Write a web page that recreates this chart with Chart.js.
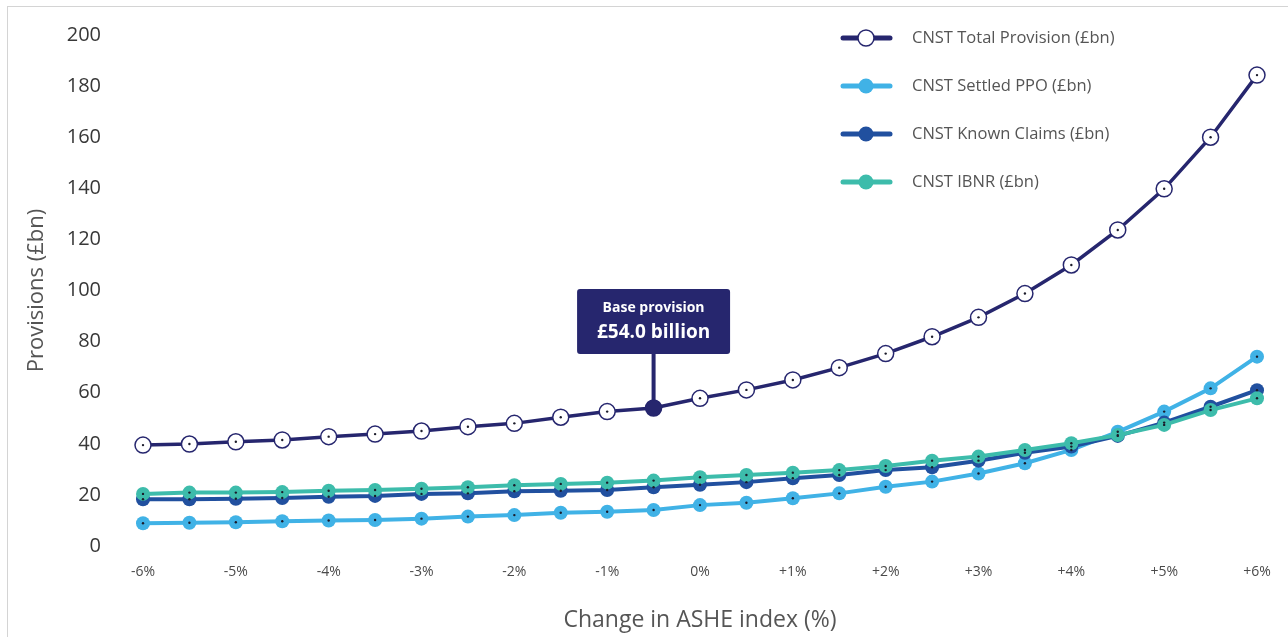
<!DOCTYPE html>
<html>
<head>
<meta charset="utf-8">
<script src="https://cdn.jsdelivr.net/npm/chart.js@4.4.1/dist/chart.umd.min.js"></script>
<style>
    html, body { margin: 0; padding: 0; background: #fff; overflow: hidden; }
    .frame { position: absolute; left: 7px; top: 6px; right: -4px; bottom: -4px; border: 1px solid #d4d4d4; }
    .wrap { position: absolute; left: 0; top: 0; width: 1288px; height: 637px; }
</style>
</head>
<body>
<div class="frame"></div>
<div class="wrap"><canvas id="provisionChart"></canvas></div>
<script>
    const changes = ['-6%', '-5.5%', '-5%', '-4.5%', '-4%', '-3.5%', '-3%', '-2.5%', '-2%', '-1.5%', '-1%', '-0.5%', '0%',
        '+0.5%', '+1%', '+1.5%', '+2%', '+2.5%', '+3%', '+3.5%', '+4%', '+4.5%', '+5%', '+5.5%', '+6%'];

    const totalProvision = [39.5, 39.9, 40.8, 41.5, 42.8, 43.8, 45.0, 46.7, 48.0, 50.4, 52.6, 54.0, 57.8,
        61.1, 65.0, 69.8, 75.3, 81.9, 89.5, 98.8, 110.0, 123.7, 139.8, 160.0, 184.3];
    const settledPPO = [8.9, 9.1, 9.3, 9.7, 10.0, 10.2, 10.7, 11.5, 12.1, 13.0, 13.4, 14.1, 16.0,
        16.9, 18.7, 20.6, 23.2, 25.2, 28.4, 32.4, 37.6, 44.7, 52.6, 61.7, 74.1];
    const knownClaims = [18.3, 18.3, 18.5, 18.8, 19.3, 19.6, 20.4, 20.6, 21.4, 21.6, 21.9, 23.0, 24.0,
        25.0, 26.5, 27.8, 29.7, 30.8, 33.4, 36.5, 38.9, 43.1, 48.3, 54.5, 61.0];
    const ibnr = [20.4, 20.9, 20.9, 21.1, 21.6, 21.9, 22.4, 23.0, 23.8, 24.3, 24.8, 25.6, 26.9,
        27.8, 28.7, 29.7, 31.3, 33.4, 35.0, 37.6, 40.2, 43.4, 47.4, 53.2, 57.8];

    const baseIndex = changes.indexOf('-0.5%');
    const baseLabel = ['Base provision', '£' + totalProvision[baseIndex].toFixed(1) + ' billion'];

    const navy = '#26266e';
    const fontFamily = '"Open Sans", "Noto Sans", sans-serif';

    const series = [
        {label: 'CNST Total Provision (£bn)', data: totalProvision, color: navy, order: 0, width: 3.5},
        {label: 'CNST Settled PPO (£bn)', data: settledPPO, color: '#40b2e6', order: 3, width: 4},
        {label: 'CNST Known Claims (£bn)', data: knownClaims, color: '#21509f', order: 2, width: 4},
        {label: 'CNST IBNR (£bn)', data: ibnr, color: '#3dbcab', order: 1, width: 4}
    ];

    const datasets = series.map((s, i) => ({
        label: s.label,
        data: s.data,
        borderColor: s.color,
        borderWidth: s.width,
        order: s.order,
        clip: false,
        tension: 0,
        pointRadius: i === 0 ? 8 : 7,
        pointBorderWidth: i === 0 ? 1.5 : 0,
        pointBorderColor: s.color,
        pointBackgroundColor: i === 0
            ? ctx => (ctx.dataIndex === baseIndex ? navy : '#fff')
            : s.color
    }));

    // little dark dot in the middle of every marker
    const centreDots = {
        id: 'centreDots',
        afterDatasetsDraw(chart) {
            const {ctx} = chart;
            ctx.save();
            ctx.fillStyle = '#1b1b2a';
            chart.data.datasets.forEach((ds, i) => {
                chart.getDatasetMeta(i).data.forEach(pt => {
                    ctx.beginPath();
                    ctx.arc(pt.x, pt.y, 1.2, 0, Math.PI * 2);
                    ctx.fill();
                });
            });
            ctx.restore();
        }
    };

    const baseCallout = {
        id: 'baseCallout',
        afterDatasetsDraw(chart) {
            const pt = chart.getDatasetMeta(0).data[baseIndex];
            const {ctx} = chart;
            const w = 153, h = 65, gap = 54;
            const left = pt.x - w / 2;
            const top = pt.y - gap - h;
            ctx.save();
            ctx.fillStyle = navy;
            ctx.fillRect(pt.x - 2, top + h - 1, 4, gap);
            ctx.beginPath();
            ctx.roundRect(left, top, w, h, 3);
            ctx.fill();
            ctx.beginPath();
            ctx.arc(pt.x, pt.y, 8, 0, Math.PI * 2);
            ctx.fill();
            ctx.fillStyle = '#fff';
            ctx.textAlign = 'center';
            ctx.textBaseline = 'middle';
            ctx.font = 'bold 14px ' + fontFamily;
            ctx.fillText(baseLabel[0], pt.x, top + 19);
            ctx.font = 'bold 19px ' + fontFamily;
            ctx.fillText(baseLabel[1], pt.x, top + 44);
            ctx.restore();
        }
    };

    // vertical legend sitting inside the plot, top right
    const stackedLegend = {
        id: 'stackedLegend',
        afterDraw(chart) {
            const {ctx} = chart;
            const x0 = 843, x1 = 890, mid = 866, textX = 912;
            ctx.save();
            series.forEach((s, i) => {
                const y = 38 + i * 48;
                ctx.strokeStyle = s.color;
                ctx.lineWidth = 5;
                ctx.lineCap = 'round';
                ctx.beginPath();
                ctx.moveTo(x0, y);
                ctx.lineTo(x1, y);
                ctx.stroke();
                ctx.beginPath();
                ctx.arc(mid, y, i === 0 ? 8 : 7.5, 0, Math.PI * 2);
                ctx.fillStyle = i === 0 ? '#fff' : s.color;
                ctx.fill();
                if (i === 0) {
                    ctx.lineWidth = 1.5;
                    ctx.stroke();
                }
                ctx.fillStyle = '#555';
                ctx.font = '16.5px ' + fontFamily;
                ctx.textAlign = 'left';
                ctx.textBaseline = 'middle';
                ctx.fillText(s.label, textX, y);
            });
            ctx.restore();
        }
    };

    // scales should not push the plot area around with their label padding
    const noScalePadding = scale => {
        scale.paddingTop = 0;
        scale.paddingBottom = 0;
        scale.paddingLeft = 0;
        scale.paddingRight = 0;
    };

    new Chart(document.getElementById('provisionChart'), {
        type: 'line',
        data: {labels: changes, datasets},
        options: {
            responsive: true,
            maintainAspectRatio: false,
            animation: false,
            layout: {autoPadding: false, padding: {top: 35, right: 31, left: 0, bottom: 0}},
            plugins: {
                legend: {display: false},
                tooltip: {enabled: false}
            },
            scales: {
                x: {
                    offset: false,
                    grid: {display: false, drawTicks: false},
                    border: {display: false},
                    afterFit: scale => {
                        scale.height = 91;
                        noScalePadding(scale);
                    },
                    ticks: {
                        autoSkip: false,
                        maxRotation: 0,
                        padding: 18,
                        color: '#4a4a4a',
                        font: {family: fontFamily, size: 14},
                        callback: (value, index) => (index % 2 === 0 ? changes[index] : '')
                    },
                    title: {
                        display: true,
                        text: 'Change in ASHE index (%)',
                        color: '#555',
                        font: {family: fontFamily, size: 23},
                        padding: {top: 0, bottom: 3}
                    }
                },
                y: {
                    min: 0,
                    max: 200,
                    grid: {display: false, drawTicks: false},
                    border: {display: false},
                    afterFit: scale => {
                        scale.width = 143;
                        noScalePadding(scale);
                    },
                    ticks: {
                        stepSize: 20,
                        padding: 42,
                        color: '#383838',
                        font: {family: fontFamily, size: 20}
                    },
                    title: {
                        display: true,
                        text: 'Provisions (£bn)',
                        color: '#555',
                        font: {family: fontFamily, size: 22},
                        padding: {top: 24, bottom: 0}
                    }
                }
            }
        },
        plugins: [centreDots, baseCallout, stackedLegend]
    });
</script>
</body>
</html>
